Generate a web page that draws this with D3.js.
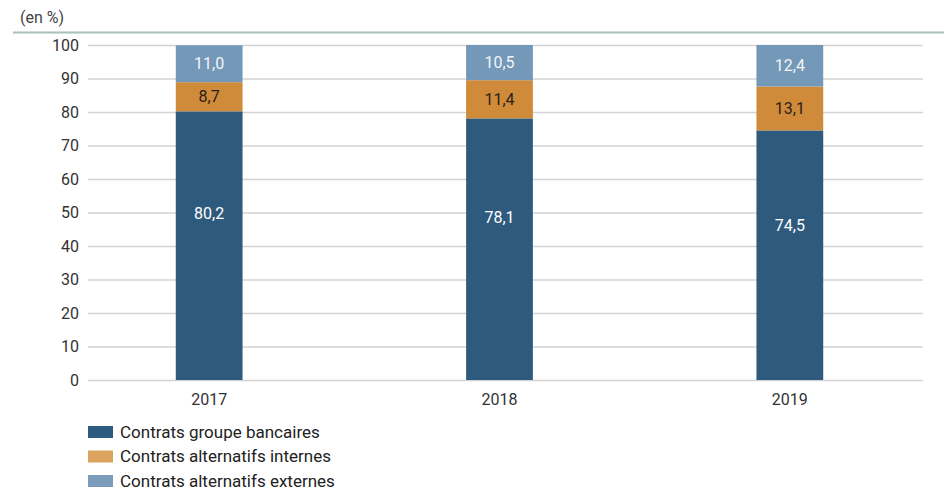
<!DOCTYPE html>
<html>
<head>
<meta charset="utf-8">
<script src="https://cdn.jsdelivr.net/npm/d3@7"></script>
<style>
  body { margin: 0; background: #fff; }
  text { font-family: "Roboto", sans-serif; }
</style>
</head>
<body>
<div id="chart"></div>
<script>
// data
const years = ["2017", "2018", "2019"];
const groupeBancaire = [80.2, 78.1, 74.5];
const altInternes = [8.7, 11.4, 13.1];
const altExternes = [11.0, 10.5, 12.4];
const seriesNames = ["Contrats groupe bancaires", "Contrats alternatifs internes", "Contrats alternatifs externes"];
const yTicks = [0, 10, 20, 30, 40, 50, 60, 70, 80, 90, 100];

const width = 944;
const height = 491;
const colors = ["#2e5a7e", "#d08b3a", "#7398b8"];
const legendColors = ["#2e5a7e", "#dca35f", "#7b9dbb"];
const labelColors = ["#ffffff", "#2a2118", "#f2f5f8"];

let svg = d3.select("#chart")
    .append("svg")
    .attr("width", width)
    .attr("height", height);

let xScale = d3.scaleBand()
    .domain(years)
    .range([64, 935])
    .paddingInner(0.77)
    .paddingOuter(0.385);

let yScale = d3.scaleLinear()
    .domain([0, 100])
    .range([380, 45]);

// top rule + unit label
svg.append("line")
    .attr("x1", 13).attr("x2", width)
    .attr("y1", 32.5).attr("y2", 32.5)
    .attr("stroke", "#a8c2b6")
    .attr("stroke-width", 2);

svg.append("text")
    .attr("x", 20).attr("y", 23)
    .attr("font-size", 16)
    .attr("fill", "#444")
    .text("(en %)");

// y axis with gridlines
let yAxis = svg.append("g")
    .attr("transform", "translate(88,0)")
    .call(d3.axisLeft(yScale).tickValues(yTicks).tickSize(-835).tickPadding(9));
yAxis.select(".domain").remove();
yAxis.selectAll(".tick line").attr("stroke", "#d3d3d3").attr("stroke-width", 1.5);
yAxis.selectAll(".tick text")
    .attr("font-size", 16)
    .attr("fill", "#333");

// x axis labels
let xAxis = svg.append("g")
    .attr("transform", "translate(0,380)")
    .call(d3.axisBottom(xScale).tickSize(0).tickPadding(14));
xAxis.select(".domain").remove();
xAxis.selectAll(".tick text")
    .attr("font-size", 16)
    .attr("fill", "#333");

// stacking
const rows = years.map((y, i) => ({
    year: y,
    s0: groupeBancaire[i],
    s1: altInternes[i],
    s2: altExternes[i]
}));
const stack = d3.stack().keys(["s0", "s1", "s2"]);
const layers = stack(rows);

const fmt = v => d3.format(".1f")(v).replace(".", ",");

// label position: middle of segment, except the tall bottom one sits higher
const labelY = (d, k) => {
    if (k === 0) return yScale(d[1] * 0.62);
    return (yScale(d[0]) + yScale(Math.min(d[1], 100))) / 2;
};

layers.forEach((layer, k) => {
    let g = svg.append("g");
    g.selectAll("rect")
        .data(layer)
        .enter()
        .append("rect")
        .attr("x", d => xScale(d.data.year))
        .attr("width", xScale.bandwidth())
        .attr("y", d => yScale(Math.min(d[1], 100)))
        .attr("height", d => yScale(d[0]) - yScale(Math.min(d[1], 100)))
        .attr("fill", colors[k]);

    g.selectAll("text")
        .data(layer)
        .enter()
        .append("text")
        .attr("x", d => xScale(d.data.year) + xScale.bandwidth() / 2)
        .attr("y", d => labelY(d, k))
        .attr("dy", "0.35em")
        .attr("text-anchor", "middle")
        .attr("font-size", 16)
        .attr("fill", labelColors[k])
        .text(d => fmt(d.data["s" + k]));
});

// legend
let legend = svg.append("g");
seriesNames.forEach((name, i) => {
    let yPos = 432 + i * 24.5;
    legend.append("rect")
        .attr("x", 88).attr("y", yPos - 6)
        .attr("width", 25).attr("height", 12)
        .attr("fill", legendColors[i]);
    legend.append("text")
        .attr("x", 120).attr("y", yPos)
        .attr("dy", "0.35em")
        .attr("font-size", 17)
        .attr("fill", "#222")
        .text(name);
});
</script>
</body>
</html>
